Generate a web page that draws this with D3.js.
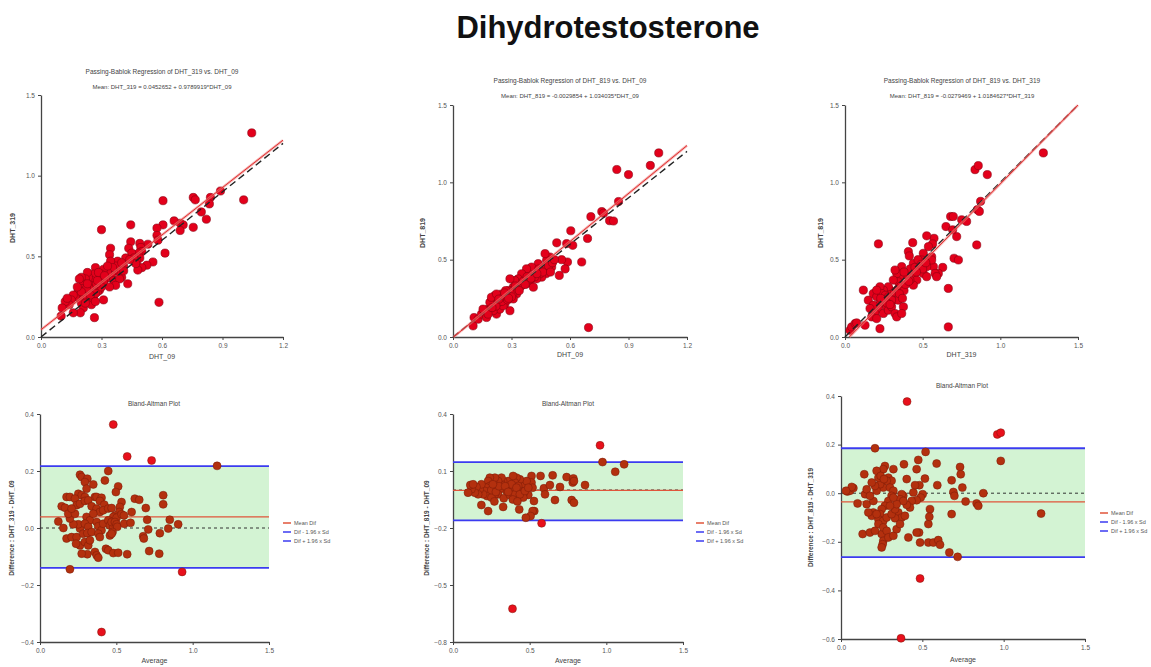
<!DOCTYPE html>
<html>
<head>
<meta charset="utf-8">
<script src="https://cdn.jsdelivr.net/npm/d3@7"></script>
<style>
  body { margin: 0; background: #fff; }
  svg { display: block; font-family: "Liberation Sans", Arial, sans-serif; }
</style>
</head>
<body>
<svg id="chart" width="1151" height="667"></svg>
<script>
// ---- data ----
// Passing-Bablok scatter: [x, y]
const pb319vs09 = [[1.045,1.265],[1.005,0.85],[0.89,0.905],[0.84,0.865],[0.835,0.825],[0.82,0.73],[0.795,0.775],[0.755,0.865],[0.765,0.85],[0.755,0.68],[0.69,0.705],[0.705,0.695],[0.69,0.66],[0.66,0.72],[0.605,0.845],[0.605,0.695],[0.585,0.215],[0.615,0.52],[0.575,0.675],[0.575,0.63],[0.58,0.6],[0.555,0.465],[0.53,0.575],[0.525,0.445],
  [0.49,0.58],[0.495,0.555],[0.5,0.53],[0.485,0.52],[0.49,0.49],[0.475,0.47],[0.5,0.43],[0.48,0.415],[0.445,0.695],[0.445,0.59],[0.435,0.55],[0.45,0.52],[0.46,0.49],[0.47,0.455],[0.43,0.33],[0.42,0.49],[0.41,0.44],[0.39,0.4],[0.4,0.37],[0.38,0.47],[0.37,0.44],[0.36,0.41],[0.35,0.38],[0.345,0.55],[0.34,0.51],[0.345,0.47],[0.355,0.43],[0.33,0.4],[0.32,0.36],[0.3,0.665],[0.31,0.42],[0.3,0.39],[0.31,0.34],[0.31,0.23],[0.29,0.29],[0.28,0.28],[0.3,0.31],[0.29,0.36],[0.27,0.43],[0.265,0.12],
  [0.26,0.39],[0.25,0.35],[0.255,0.32],[0.24,0.3],[0.235,0.37],[0.23,0.4],[0.22,0.36],[0.21,0.33],[0.2,0.37],[0.19,0.36],[0.205,0.3],[0.215,0.27],[0.225,0.25],[0.24,0.22],[0.25,0.2],[0.26,0.24],[0.27,0.27],[0.275,0.33],[0.28,0.35],[0.19,0.24],[0.18,0.27],[0.17,0.25],[0.16,0.26],[0.15,0.23],[0.2,0.21],[0.21,0.18],[0.195,0.15],[0.16,0.15],[0.14,0.2],[0.12,0.22],[0.105,0.18],[0.1,0.13],[0.13,0.24],[0.225,0.3],[0.23,0.33],[0.245,0.26],[0.285,0.4],[0.33,0.44],[0.315,0.38],[0.36,0.35],[0.39,0.36],[0.41,0.41],[0.37,0.32],[0.34,0.31],[0.2,0.28],[0.18,0.31],[0.22,0.21],[0.27,0.22],[0.4,0.46],[0.44,0.48]];

const pb819vs09 = [[1.055,1.19],[1.012,1.109],[0.9,1.05],[0.84,1.083],[0.849,0.876],[0.803,0.752],[0.823,0.75],[0.763,0.811],[0.772,0.8],[0.707,0.778],[0.69,0.637],[0.695,0.061],[0.66,0.485],[0.604,0.687],[0.614,0.593],[0.583,0.604],[0.587,0.485],[0.557,0.5],[0.575,0.44],[0.532,0.609],[0.545,0.398],
  [0.497,0.517],[0.506,0.452],[0.48,0.496],[0.472,0.539],[0.477,0.409],[0.455,0.387],[0.463,0.452],[0.437,0.474],[0.446,0.409],[0.429,0.376],[0.403,0.452],[0.386,0.409],[0.377,0.441],[0.374,0.343],[0.395,0.354],[0.412,0.322],[0.352,0.409],[0.334,0.376],[0.343,0.343],[0.317,0.365],[0.309,0.322],[0.3,0.3],[0.326,0.278],[0.292,0.376],
  [0.103,0.072],[0.108,0.126],[0.129,0.115],[0.146,0.148],[0.163,0.159],[0.18,0.18],[0.172,0.126],[0.197,0.202],[0.206,0.235],[0.189,0.224],[0.214,0.191],[0.223,0.148],[0.232,0.257],[0.24,0.224],[0.249,0.278],[0.257,0.246],[0.266,0.213],[0.274,0.267],[0.283,0.3],[0.24,0.18],[0.214,0.267],[0.197,0.257],[0.223,0.278],[0.292,0.17],[0.309,0.246],[0.257,0.202],[0.232,0.224],[0.206,0.17],[0.154,0.18],[0.18,0.148],
  [0.27,0.3],[0.29,0.27],[0.31,0.29],[0.33,0.31],[0.35,0.33],[0.36,0.36],[0.38,0.39],[0.39,0.37],[0.42,0.39],[0.44,0.44],[0.46,0.42],[0.49,0.46],[0.51,0.48],[0.52,0.5],[0.5,0.42],[0.25,0.23],[0.26,0.26],[0.28,0.24],[0.3,0.26],[0.32,0.33],[0.34,0.3],[0.37,0.34],[0.4,0.38],[0.43,0.41],[0.22,0.2],[0.2,0.19],[0.235,0.245],[0.265,0.285],[0.285,0.25]];

const pb819vs319 = [[1.277,1.19],[0.837,1.082],[0.858,1.108],[0.916,1.05],[0.873,0.877],[0.852,0.823],[0.865,0.812],[0.848,0.595],[0.68,0.779],[0.697,0.779],[0.751,0.758],[0.783,0.747],[0.65,0.714],[0.719,0.649],[0.693,0.693],[0.702,0.509],[0.73,0.498],[0.665,0.314],[0.665,0.065],[0.629,0.45],[0.601,0.411],[0.573,0.638],[0.564,0.602],[0.526,0.654],[0.215,0.602],[0.118,0.303],[0.436,0.61],[0.408,0.552],[0.414,0.524],
  [0.537,0.584],[0.558,0.519],[0.543,0.498],[0.569,0.455],[0.58,0.411],[0.59,0.39],[0.526,0.455],[0.504,0.541],[0.494,0.498],[0.483,0.455],[0.504,0.411],[0.526,0.39],[0.558,0.498],[0.44,0.476],[0.429,0.433],[0.451,0.411],[0.462,0.368],[0.44,0.335],[0.418,0.368],[0.397,0.4],[0.365,0.455],[0.354,0.39],[0.343,0.357],[0.333,0.411],[0.322,0.433],[0.311,0.368],[0.29,0.303],[0.3,0.281],[0.279,0.325],
  [0.15,0.238],[0.182,0.281],[0.204,0.26],[0.225,0.216],[0.215,0.184],[0.193,0.152],[0.172,0.13],[0.204,0.119],[0.225,0.054],[0.247,0.152],[0.268,0.195],[0.258,0.238],[0.279,0.173],[0.3,0.195],[0.322,0.152],[0.333,0.13],[0.311,0.238],[0.343,0.238],[0.376,0.195],[0.365,0.152],[0.247,0.303],[0.225,0.325],[0.236,0.281],[0.182,0.206],[0.161,0.184],[0.204,0.303],
  [0.032,0.043],[0.043,0.065],[0.065,0.087],[0.075,0.091],[0.129,0.076],
  [0.26,0.27],[0.28,0.26],[0.3,0.24],[0.32,0.29],[0.34,0.31],[0.36,0.33],[0.38,0.3],[0.39,0.34],[0.41,0.36],[0.42,0.44],[0.45,0.45],[0.47,0.5],[0.49,0.47],[0.5,0.44],[0.52,0.48],[0.38,0.42],[0.35,0.28],[0.27,0.22],[0.29,0.21],[0.23,0.25],[0.37,0.25],[0.46,0.42]];

// Passing-Bablok fits: [intercept, slope]
const fit319vs09 = [0.0452652, 0.9789919];
const fit819vs09 = [-0.0029854, 1.034035];
const fit819vs319 = [-0.0279469, 1.0184627];

// Bland-Altman: [average, difference]
const ba319m09 = [[0.48,0.363],[0.571,0.251],[0.731,0.237],[1.16,0.218],[0.196,-0.145],[0.931,-0.154],[0.403,-0.365],
  [0.447,0.2],[0.262,0.187],[0.273,0.179],[0.31,0.173],[0.425,0.167],[0.294,0.161],[0.305,0.138],[0.349,0.153],[0.512,0.146],[0.497,0.126],[0.251,0.12],[0.273,0.115],[0.807,0.115],[0.807,0.083],[0.621,0.103],[0.65,0.099],[0.174,0.109],[0.196,0.109],[0.229,0.103],[0.294,0.109],[0.36,0.109],[0.371,0.109],[0.403,0.106],[0.392,0.095],[0.421,0.082],[0.142,0.076],[0.164,0.071],
  [0.24,0.08],[0.262,0.085],[0.294,0.095],[0.316,0.097],[0.338,0.076],[0.371,0.068],[0.392,0.056],[0.414,0.062],[0.447,0.068],[0.469,0.07],[0.534,0.091],[0.523,0.074],[0.519,0.056],[0.491,0.044],[0.48,0.039],[0.502,0.036],[0.534,0.048],[0.55,0.044],
  [0.6,0.056],[0.693,0.07],[0.702,0.029],[0.85,0.029],[0.905,0.013],[0.709,-0.005],[0.785,-0.018],[0.84,-0.002],
  [0.12,0.023],[0.153,0],[0.174,-0.037],[0.207,-0.032],[0.24,-0.032],[0.262,-0.002],[0.251,0.013],[0.218,0.013],[0.196,0.033],[0.185,0.05],[0.229,0.05],[0.207,0.068],
  [0.305,0.039],[0.327,0.027],[0.349,0.05],[0.294,0.015],[0.316,0.004],[0.371,0.021],[0.382,0.006],[0.403,-0.008],[0.414,0.015],
  [0.447,0.027],[0.458,0.009],[0.48,0.004],[0.469,0.021],[0.491,0.021],[0.502,0.013],[0.506,0.004],[0.475,-0.014],[0.458,-0.026],
  [0.552,0.015],[0.593,0.018],[0.676,-0.029],[0.68,-0.037],
  [0.283,-0.02],[0.31,-0.018],[0.262,-0.061],[0.236,-0.055],[0.294,-0.049],[0.316,-0.061],[0.327,-0.043],[0.338,-0.014],[0.382,-0.02],[0.392,-0.032],
  [0.31,-0.092],[0.273,-0.09],[0.36,-0.084],[0.371,-0.096],[0.382,-0.104],[0.432,-0.073],[0.447,-0.078],[0.48,-0.088],[0.512,-0.087],[0.571,-0.092],[0.715,-0.081],[0.781,-0.09],[0.469,-0.02]];

const ba819m09 = [[0.959,0.235],[0.975,0.147],[1.058,0.096],[1.116,0.135],[0.388,-0.625],[0.578,-0.175],
  [0.65,0.077],[0.861,0.026],[0.741,0.068],[0.785,0.061],[0.781,0.039],[0.789,0.047],[0.698,0.016],[0.665,-0.053],[0.774,-0.053],[0.789,-0.067],[0.593,0.009],[0.6,-0.023],[0.632,0.026],[0.571,0.074],[0.512,0.074],[0.512,0.039],[0.519,0.012],[0.528,-0.058],[0.53,-0.111],[0.519,-0.111],[0.506,-0.137],[0.475,-0.146],[0.432,-0.102],
  [0.491,-0.026],[0.458,-0.023],[0.447,0.004],[0.469,0.03],[0.48,0.047],[0.436,0.056],[0.414,0.065],[0.403,0.039],[0.425,0.021],[0.458,-0.04],
  [0.371,0.012],[0.349,-0.005],[0.36,0.047],[0.327,0.047],[0.316,0.03],[0.305,0.004],[0.294,-0.023],[0.273,-0.023],[0.283,0.012],[0.316,0.065],[0.294,0.047],[0.262,0.039],[0.273,0.065],[0.24,0.065],[0.229,0.047],[0.24,0.021],[0.218,0.012],[0.207,-0.005],[0.222,-0.032],[0.251,-0.04],[0.196,-0.023],[0.174,0.004],[0.185,0.03],[0.153,0.016],[0.164,-0.023],[0.142,-0.014],[0.12,0.004],[0.098,-0.014],[0.113,0.026],[0.131,0.03],[0.229,-0.111],[0.185,-0.079],[0.327,-0.089],[0.331,-0.044],[0.371,-0.026],[0.403,-0.023],[0.382,0.03],[0.392,0.074],[0.414,0.012],[0.436,-0.023],[0.469,-0.005],[0.491,0.012],
  [0.25,0.0],[0.28,-0.01],[0.3,0.02],[0.26,0.03],[0.34,0.02],[0.36,-0.01],[0.39,-0.05],[0.42,-0.06],[0.27,-0.06]];

const ba819m319 = [[0.406,0.377],[0.961,0.242],[0.982,0.249],[0.982,0.133],[1.23,-0.084],[0.486,-0.351],[0.369,-0.597],[0.717,-0.262],[0.209,0.185],
  [0.52,0.17],[0.475,0.137],[0.588,0.122],[0.387,0.119],[0.732,0.108],[0.736,0.078],[0.68,0.053],[0.516,0.06],[0.465,0.099],[0.404,0.058],[0.592,0.033],[0.691,0.005],[0.697,-0.011],[0.746,0.023],[0.766,-0.034],[0.875,0.0],[0.834,-0.042],[0.844,-0.052],[0.68,-0.086],[0.547,-0.066],[0.537,-0.127],[0.543,-0.097],[0.537,-0.203],[0.568,-0.203],[0.598,-0.193],[0.609,-0.212],[0.666,-0.244],[0.486,-0.203],[0.48,-0.162],[0.465,-0.162],[0.414,-0.182],
  [0.502,-0.004],[0.49,-0.018],[0.465,-0.029],[0.434,-0.032],[0.445,0.003],[0.482,0.033],[0.455,0.033],
  [0.424,-0.059],[0.404,-0.048],[0.383,-0.011],[0.373,-0.004],[0.363,-0.025],[0.383,-0.032],[0.352,-0.079],[0.373,-0.1],[0.393,-0.093],[0.332,-0.103],
  [0.322,0.099],[0.27,0.112],[0.26,0.099],[0.291,0.064],[0.311,0.051],[0.281,0.051],[0.26,0.023],[0.24,0.037],[0.23,0.064],[0.219,0.092],[0.244,0.071],[0.264,0.058],[0.301,0.023],[0.322,0.01],[0.311,-0.011],[0.291,-0.032],[0.27,-0.052],[0.25,-0.066],[0.24,-0.086],[0.23,-0.107],[0.26,-0.114],[0.281,-0.1],[0.311,-0.086],[0.332,-0.066],[0.342,-0.045],[0.322,-0.018],[0.301,-0.052],
  [0.23,-0.127],[0.25,-0.168],[0.26,-0.196],[0.256,-0.21],[0.25,-0.223],[0.26,-0.141],[0.281,-0.155],[0.291,-0.182],[0.322,-0.175],[0.342,-0.148],[0.363,-0.127],
  [0.199,-0.079],[0.189,-0.093],[0.168,-0.079],[0.158,-0.045],[0.148,-0.004],[0.158,0.016],[0.133,-0.168],[0.178,-0.162],[0.209,-0.155],[0.219,-0.086],[0.199,-0.032],[0.178,-0.011],[0.219,0.01],[0.209,0.03],[0.189,0.044],
  [0.039,0.007],[0.055,0.01],[0.076,0.021],[0.066,0.026],[0.031,0.01],[0.102,-0.042],[0.143,0.078]];

// [mean difference, lower limit, upper limit]
const lim319m09 = [0.039, -0.14, 0.217];
const lim819m09 = [-0.002, -0.16, 0.147];
const lim819m319 = [-0.036, -0.263, 0.185];

const legendLabels = ['Mean Dif', 'Dif - 1.96 x Sd', 'Dif + 1.96 x Sd'];

const svg = d3.select('#chart');

svg.append('text')
  .attr('x', 608).attr('y', 38)
  .attr('text-anchor', 'middle')
  .attr('font-size', 31).attr('font-weight', 'bold')
  .attr('fill', '#111')
  .text('Dihydrotestosterone');

function drawAxes(g, x, y, xticks, yticks) {
  const fmt = d3.format('.1f');
  const gx = g.append('g')
    .attr('transform', `translate(0,${y.range()[0]})`)
    .call(d3.axisBottom(x).tickValues(xticks).tickFormat(fmt).tickSize(3).tickSizeOuter(0));
  const gy = g.append('g')
    .attr('transform', `translate(${x.range()[0]},0)`)
    .call(d3.axisLeft(y).tickValues(yticks).tickFormat(fmt).tickSize(3).tickSizeOuter(0));
  [gx, gy].forEach(a => {
    a.select('.domain').attr('stroke', '#444').attr('stroke-width', 1.3);
    a.selectAll('.tick line').attr('stroke', '#444');
    a.selectAll('.tick text').attr('font-size', 6.5).attr('fill', '#555').attr('font-family', '"Liberation Sans", Arial, sans-serif');
  });
}

function label(g, txt, x, y, size, rotate, weight) {
  const t = g.append('text')
    .attr('text-anchor', 'middle')
    .attr('font-size', size)
    .attr('fill', '#444')
    .attr('font-weight', weight || 'normal')
    .text(txt);
  if (rotate) t.attr('transform', `translate(${x},${y}) rotate(-90)`);
  else t.attr('x', x).attr('y', y);
}

function scatterPanel(cfg) {
  const x = d3.scaleLinear().domain([0, cfg.xmax]).range([cfg.l, cfg.r]);
  const y = d3.scaleLinear().domain([0, 1.5]).range([cfg.b, cfg.t]);
  const g = svg.append('g');
  drawAxes(g, x, y, cfg.xticks, [0, 0.5, 1.0, 1.5]);

  g.selectAll('circle').data(cfg.data).join('circle')
    .attr('cx', d => x(d[0])).attr('cy', d => y(d[1]))
    .attr('r', 4.1)
    .attr('fill', '#e3001b')
    .attr('stroke', '#8a0010').attr('stroke-width', 0.6);

  // line of identity
  g.append('line')
    .attr('x1', x(0)).attr('y1', y(0))
    .attr('x2', x(cfg.xmax)).attr('y2', y(cfg.xmax))
    .attr('stroke', '#222').attr('stroke-width', 1.4)
    .attr('stroke-dasharray', '7,4');

  // Passing-Bablok fit
  const [a, b] = cfg.fit;
  const xs = Math.max(0, -a / b);
  const xe = Math.min(cfg.xmax, (1.5 - a) / b);
  g.append('line')
    .attr('x1', x(xs)).attr('y1', y(a + b * xs))
    .attr('x2', x(xe)).attr('y2', y(a + b * xe))
    .attr('stroke', '#f08080').attr('stroke-width', 2.6).attr('opacity', 0.6);
  g.append('line')
    .attr('x1', x(xs)).attr('y1', y(a + b * xs))
    .attr('x2', x(xe)).attr('y2', y(a + b * xe))
    .attr('stroke', '#e03030').attr('stroke-width', 1);

  label(g, cfg.title, cfg.tx, cfg.ty, 6.5);
  label(g, cfg.sub, cfg.tx, cfg.ty + 15, 6);
  label(g, cfg.xlab, (cfg.l + cfg.r) / 2, cfg.xly, 7);
  label(g, cfg.ylab, cfg.ylx, cfg.yly, 7, true, 'bold');
}

function baPanel(cfg) {
  const x = d3.scaleLinear().domain([0, 1.5]).range([cfg.l, cfg.r]);
  const y = d3.scaleLinear().domain([cfg.ymin, cfg.ymax]).range([cfg.b, cfg.t]);
  const [mean, lo, hi] = cfg.lim;
  const g = svg.append('g');

  g.append('rect')
    .attr('x', x(0)).attr('y', y(hi))
    .attr('width', x(1.5) - x(0)).attr('height', y(lo) - y(hi))
    .attr('fill', '#d3f3d3');

  drawAxes(g, x, y, [0, 0.5, 1.0, 1.5], cfg.yticks);

  g.append('line')
    .attr('x1', x(0)).attr('x2', x(1.5)).attr('y1', y(0)).attr('y2', y(0))
    .attr('stroke', '#333').attr('stroke-width', 1).attr('stroke-dasharray', '3,3');
  g.append('line')
    .attr('x1', x(0)).attr('x2', x(1.5)).attr('y1', y(mean)).attr('y2', y(mean))
    .attr('stroke', '#e0553a').attr('stroke-width', 1.3);
  [lo, hi].forEach(v => {
    g.append('line')
      .attr('x1', x(0)).attr('x2', x(1.5)).attr('y1', y(v)).attr('y2', y(v))
      .attr('stroke', '#3b3bf0').attr('stroke-width', 1.8);
  });

  g.selectAll('circle').data(cfg.data).join('circle')
    .attr('cx', d => x(d[0])).attr('cy', d => y(d[1]))
    .attr('r', 4)
    .attr('fill', d => (d[1] > hi + 0.01 || d[1] < lo - 0.01) ? '#e8101c' : '#b3300e')
    .attr('stroke', '#7a1a08').attr('stroke-width', 0.5);

  label(g, 'Bland-Altman Plot', cfg.tx, cfg.ty, 6.5);
  label(g, 'Average', (cfg.l + cfg.r) / 2, cfg.xly, 7);
  label(g, cfg.ylab, cfg.ylx, (cfg.b + cfg.t) / 2, 6.5, true, 'bold');

  const colors = ['#e0553a', '#3b3bf0', '#3b3bf0'];
  legendLabels.forEach((t, i) => {
    const yy = cfg.lgy + i * 9;
    g.append('line')
      .attr('x1', cfg.lgx).attr('x2', cfg.lgx + 8)
      .attr('y1', yy).attr('y2', yy)
      .attr('stroke', colors[i]).attr('stroke-width', 1.5);
    g.append('text')
      .attr('x', cfg.lgx + 11).attr('y', yy + 2)
      .attr('font-size', 5.5).attr('fill', '#555')
      .text(t);
  });
}

scatterPanel({ data: pb319vs09, fit: fit319vs09, xmax: 1.2, xticks: [0, 0.3, 0.6, 0.9, 1.2],
  l: 41, r: 283, b: 337, t: 95,
  title: 'Passing-Bablok Regression of DHT_319  vs.  DHT_09',
  sub: 'Mean:  DHT_319  =  0.0452652 + 0.9789919*DHT_09',
  tx: 162, ty: 74, xlab: 'DHT_09', xly: 359, ylab: 'DHT_319', ylx: 15, yly: 228 });

scatterPanel({ data: pb819vs09, fit: fit819vs09, xmax: 1.2, xticks: [0, 0.3, 0.6, 0.9, 1.2],
  l: 453, r: 687, b: 337, t: 105,
  title: 'Passing-Bablok Regression of DHT_819  vs.  DHT_09',
  sub: 'Mean:  DHT_819  =  -0.0029854 + 1.034035*DHT_09',
  tx: 570, ty: 83, xlab: 'DHT_09', xly: 357, ylab: 'DHT_819', ylx: 425, yly: 233 });

scatterPanel({ data: pb819vs319, fit: fit819vs319, xmax: 1.5, xticks: [0, 0.5, 1.0, 1.5],
  l: 845, r: 1078, b: 337, t: 105,
  title: 'Passing-Bablok Regression of DHT_819  vs.  DHT_319',
  sub: 'Mean:  DHT_819  =  -0.0279469 + 1.0184627*DHT_319',
  tx: 962, ty: 83, xlab: 'DHT_319', xly: 357, ylab: 'DHT_819', ylx: 823, yly: 233 });

baPanel({ data: ba319m09, lim: lim319m09, ymin: -0.4, ymax: 0.4, yticks: [-0.4, -0.2, 0, 0.2, 0.4],
  l: 40, r: 269, b: 642, t: 414, tx: 154, ty: 406, xly: 663,
  ylab: 'Difference : DHT_319 - DHT_09', ylx: 14, lgx: 283, lgy: 523 });

baPanel({ data: ba819m09, lim: lim819m09, ymin: -0.8, ymax: 0.4, yticks: [-0.8, -0.5, -0.2, 0.1, 0.4],
  l: 453, r: 683, b: 642, t: 414, tx: 568, ty: 406, xly: 663,
  ylab: 'Difference : DHT_819 - DHT_09', ylx: 429, lgx: 696, lgy: 523 });

baPanel({ data: ba819m319, lim: lim819m319, ymin: -0.6, ymax: 0.4, yticks: [-0.6, -0.4, -0.2, 0, 0.2, 0.4],
  l: 841, r: 1085, b: 639, t: 396, tx: 962, ty: 388, xly: 662,
  ylab: 'Difference : DHT_819 - DHT_319', ylx: 813, lgx: 1100, lgy: 513 });
</script>
</body>
</html>
